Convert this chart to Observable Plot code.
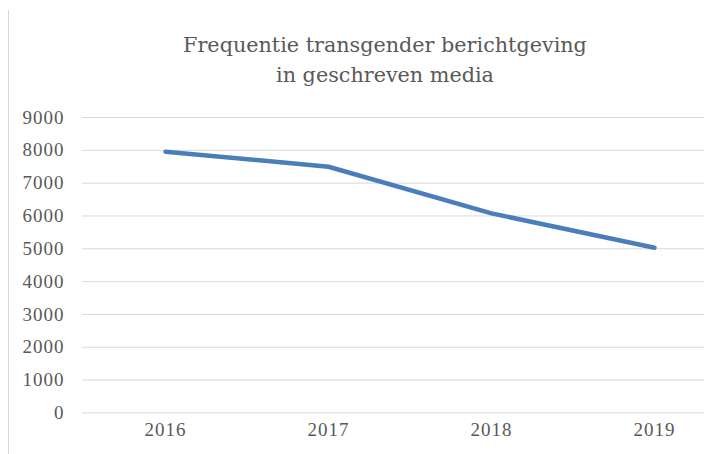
<!DOCTYPE html>
<html>
<head>
<meta charset="utf-8">
<script src="https://cdn.jsdelivr.net/npm/d3@7"></script>
<script src="https://cdn.jsdelivr.net/npm/@observablehq/plot@0.6"></script>
<style>
  html, body { margin: 0; padding: 0; background: #fff; }
  #wrap { position: relative; width: 704px; height: 454px; overflow: hidden; }
  #border { position: absolute; left: 8px; top: 10px; width: 1px; height: 444px; background: #d9d9d9; }
  #title { position: absolute; left: 0; top: 30px; width: 770px; text-align: center;
           font-family: "DejaVu Serif", serif; font-size: 20.5px; line-height: 30px; color: #595959; }
  #chart { position: absolute; left: 0; top: 100px; }
</style>
</head>
<body>
<div id="wrap">
  <div id="border"></div>
  <div id="title"><span id="t1">Frequentie transgender berichtgeving</span><br><span>in geschreven media</span></div>
  <div id="chart"></div>
</div>
<script>
const years = ["2016", "2017", "2018", "2019"];
const counts = [7960, 7500, 6080, 5030];
const yTicks = [0, 1000, 2000, 3000, 4000, 5000, 6000, 7000, 8000, 9000];

const data = years.map((y, i) => ({year: y, count: counts[i]}));

// fit title font size so that the first line is about 404px wide
const t1 = document.getElementById("t1");
const w = t1.getBoundingClientRect().width;
if (w > 0) {
  const fs = 20.5 * 404 / w;
  document.getElementById("title").style.fontSize = fs.toFixed(2) + "px";
}

const chart = Plot.plot({
  width: 704,
  height: 354,
  marginLeft: 82,
  marginRight: 0,
  marginTop: 17,
  marginBottom: 41.6,
  x: {type: "point", domain: years, range: [164, 654], padding: 0, label: null},
  y: {domain: [0, 9000], label: null},
  style: {fontFamily: "Liberation Serif, serif", fontSize: "19px", color: "#595959", background: "transparent", letterSpacing: "1px"},
  marks: [
    Plot.ruleY(yTicks, {stroke: "#d9d9d9", strokeWidth: 1}),
    Plot.axisY({ticks: yTicks, tickSize: 0, tickPadding: 18, label: null, tickFormat: d => String(d)}),
    Plot.axisX({tickSize: 0, tickPadding: 10, label: null}),
    Plot.line(data, {x: "year", y: "count", stroke: "#4a7ebb", strokeWidth: 4.5, strokeLinecap: "round", strokeLinejoin: "round"})
  ]
});
document.getElementById("chart").appendChild(chart);
</script>
</body>
</html>
